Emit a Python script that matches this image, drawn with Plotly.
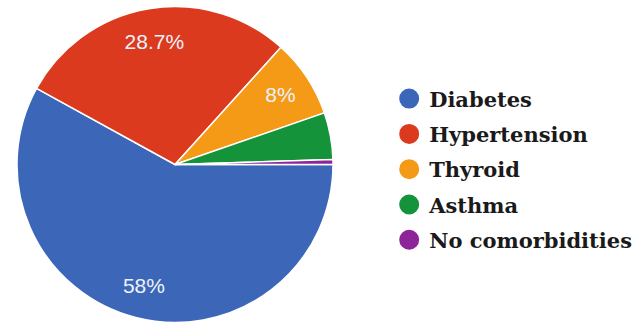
import plotly.graph_objects as go

categories = ["Diabetes", "Hypertension", "Thyroid", "Asthma", "No comorbidities"]
values = [58.0, 28.7, 8.0, 4.8, 0.5]
slice_text = ["58%", "28.7%", "8%", "", ""]
colors = ["#3C66B8", "#DC3A1F", "#F59A17", "#14933A", "#8E249A"]

dom = dict(x=[17/638, 333/638], y=[0, 1])
fig = go.Figure()
fig.add_trace(go.Pie(
    labels=categories, values=values, sort=False, direction="clockwise", rotation=90,
    textinfo="none",
    marker=dict(colors=colors, line=dict(color="white", width=1.5)),
    showlegend=False, hoverinfo="label+percent", domain=dom,
))
# transparent ring overlay used only to place the percentage labels
fig.add_trace(go.Pie(
    labels=categories, values=values, sort=False, direction="clockwise", rotation=90,
    hole=0.58, text=slice_text, textinfo="text", textposition="inside",
    insidetextorientation="horizontal",
    textfont=dict(family="Liberation Sans, Arial, sans-serif", size=21, color="#EEF2FA"),
    marker=dict(colors=["rgba(0,0,0,0)"] * len(values), line=dict(width=0)),
    showlegend=False, hoverinfo="skip", domain=dom,
))
for name, c in zip(categories, colors):
    fig.add_trace(go.Scatter(x=[None], y=[None], mode="markers", name=name, legendgroup=name,
                             marker=dict(symbol="circle", size=16, color=c,
                                         line=dict(color=c, width=4))))

fig.update_layout(
    width=638, height=329, margin=dict(l=0, r=0, t=0, b=0),
    paper_bgcolor="white", plot_bgcolor="white",
    xaxis=dict(visible=False), yaxis=dict(visible=False),
    legend=dict(x=0.61, y=0.485, xanchor="left", yanchor="middle",
                font=dict(family="DejaVu Serif", size=21, color="#1a1a1a", weight="bold"),
                bgcolor="rgba(0,0,0,0)", tracegroupgap=5),
)
fig.write_html("out.html")
